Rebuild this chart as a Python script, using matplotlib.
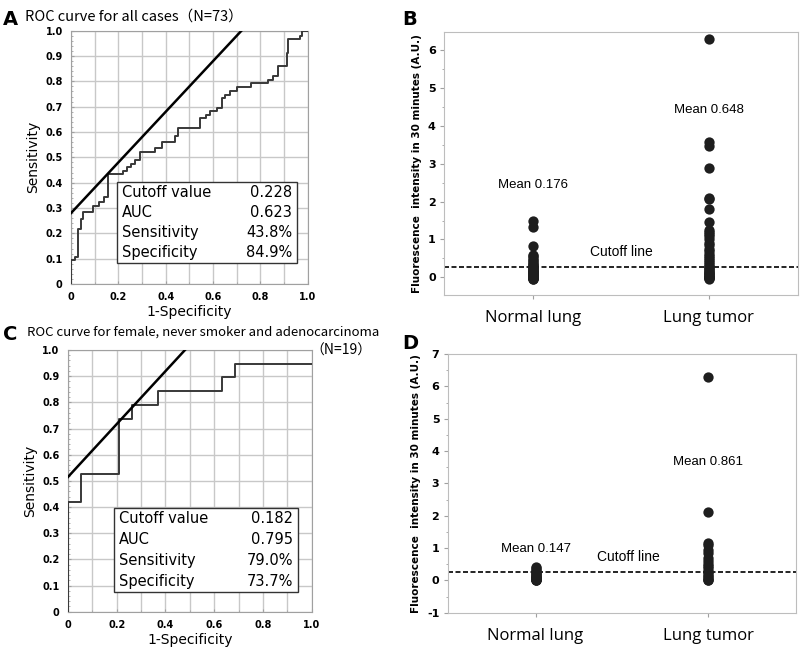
import matplotlib
matplotlib.use("Agg")
import matplotlib.pyplot as plt
from matplotlib.ticker import MultipleLocator, FuncFormatter

# ---- ROC curve, all cases (N=73) ----
roc_a_fpr = [0, 0, 0.017, 0.031, 0.04, 0.052, 0.094, 0.12, 0.14, 0.155, 0.22, 0.235,
             0.252, 0.272, 0.291, 0.354, 0.383, 0.439, 0.45, 0.544, 0.57, 0.586,
             0.615, 0.636, 0.65, 0.671, 0.699, 0.762, 0.832, 0.854, 0.872, 0.91,
             0.918, 0.966, 0.975, 0.987, 1.0]
roc_a_tpr = [0, 0.095, 0.108, 0.217, 0.257, 0.286, 0.306, 0.325, 0.343, 0.435, 0.447,
             0.463, 0.475, 0.49, 0.519, 0.536, 0.56, 0.585, 0.614, 0.655, 0.668,
             0.684, 0.694, 0.734, 0.747, 0.76, 0.777, 0.793, 0.806, 0.82, 0.859,
             0.912, 0.967, 0.978, 0.998, 1.0, 1.0]
tan_a_x = [0, 0.72]
tan_a_y = [0.28, 1.0]
stats_a = [("Cutoff value", "0.228"), ("AUC", "0.623"),
           ("Sensitivity", "43.8%"), ("Specificity", "84.9%")]

# ---- ROC curve, female / never smoker / adenocarcinoma (N=19) ----
roc_c_fpr = [0, 0, 0.053, 0.211, 0.263, 0.368, 0.632, 0.684, 1.0]
roc_c_tpr = [0, 0.421, 0.526, 0.737, 0.789, 0.842, 0.895, 0.947, 0.947]
tan_c_x = [0, 0.48]
tan_c_y = [0.515, 1.0]
stats_c = [("Cutoff value", "0.182"), ("AUC", "0.795"),
           ("Sensitivity", "79.0%"), ("Specificity", "73.7%")]

# ---- scatter, all cases ----
groups = ["Normal lung", "Lung tumor"]
b_normal = [1.50, 1.33, 0.82, 0.60, 0.55, 0.50, 0.46, 0.42, 0.38, 0.35, 0.32, 0.30,
            0.28, 0.26, 0.24, 0.22, 0.20, 0.18, 0.16, 0.15, 0.14, 0.12, 0.11, 0.10,
            0.09, 0.08, 0.07, 0.06, 0.05, 0.05, 0.04, 0.03, 0.03, 0.02, 0.02, 0.01,
            0.01, 0.0, 0.0, 0.0, -0.01, -0.02, -0.03, -0.04, -0.05]
b_tumor = [6.30, 3.57, 3.47, 2.88, 2.10, 2.07, 1.80, 1.47, 1.25, 1.20, 1.15, 1.10,
           1.02, 0.90, 0.85, 0.75, 0.70, 0.62, 0.55, 0.50, 0.45, 0.40, 0.35, 0.30,
           0.28, 0.25, 0.20, 0.18, 0.15, 0.12, 0.10, 0.08, 0.05, 0.03, 0.02, 0.0,
           0.0, -0.02, -0.03, -0.05]
b_means = ["Mean 0.176", "Mean 0.648"]
b_cutoff = 0.26

# ---- scatter, female / never smoker / adenocarcinoma ----
d_normal = [0.42, 0.38, 0.33, 0.28, 0.25, 0.22, 0.19, 0.16, 0.14, 0.12, 0.10, 0.08,
            0.07, 0.05, 0.04, 0.03, 0.02, 0.01, 0.0]
d_tumor = [6.29, 2.11, 1.15, 1.10, 0.95, 0.85, 0.70, 0.60, 0.50, 0.45, 0.38, 0.30,
           0.25, 0.20, 0.15, 0.10, 0.05, 0.02, 0.0]
d_means = ["Mean 0.147", "Mean 0.861"]
d_cutoff = 0.26

GRID = "#c8c8c8"
FRAME = "#a0a0a0"
INK = "#1e1e1e"

fig = plt.figure(figsize=(8, 6.53), dpi=100)


def roc_fmt(v, pos):
    return "0" if abs(v) < 1e-9 else "%.1f" % v


def roc_panel(rect, fpr, tpr, tx, ty, stats, box):
    ax = fig.add_axes(rect)
    ax.set_xlim(0, 1)
    ax.set_ylim(0, 1)
    ax.xaxis.set_major_locator(MultipleLocator(0.2))
    ax.xaxis.set_minor_locator(MultipleLocator(0.1))
    ax.yaxis.set_major_locator(MultipleLocator(0.1))
    ax.yaxis.set_minor_locator(MultipleLocator(0.02))
    ax.xaxis.set_major_formatter(FuncFormatter(roc_fmt))
    ax.yaxis.set_major_formatter(FuncFormatter(roc_fmt))
    ax.grid(True, which="major", color=GRID, lw=1.0)
    ax.grid(True, which="minor", axis="x", color=GRID, lw=1.0)
    for s in ax.spines.values():
        s.set_color(FRAME)
    ax.tick_params(which="both", direction="in", color=FRAME, length=2,
                   labelsize=7, pad=6)
    ax.tick_params(which="minor", length=1.5)
    for lab in ax.get_xticklabels() + ax.get_yticklabels():
        lab.set_fontweight("bold")
    ax.plot(fpr, tpr, drawstyle="steps-post", color="#383838", lw=1.4, zorder=3)
    ax.plot(tx, ty, color="black", lw=1.8, zorder=4)
    ax.set_xlabel("1-Specificity", fontsize=10, labelpad=2)
    ax.set_ylabel("Sensitivity", fontsize=10, labelpad=4)
    x0, y0, x1, y1 = box
    ax.add_patch(plt.Rectangle((x0, y0), x1 - x0, y1 - y0, facecolor="white",
                               edgecolor="#333333", lw=1.0, zorder=5))
    rows = len(stats)
    for i, (k, v) in enumerate(stats):
        yy = y1 - (y1 - y0) * (i + 0.5) / rows
        ax.text(x0 + 0.02, yy, k, fontsize=10.5, va="center", ha="left", zorder=6)
        ax.text(x1 - 0.02, yy, v, fontsize=10.5, va="center", ha="right", zorder=6)
    return ax


def dot_panel(rect, normal, tumor, ylim, yticks, means, mean_y, cutoff, cut_xy):
    ax = fig.add_axes(rect)
    ax.scatter([1] * len(normal), normal, s=55, color=INK, zorder=3, lw=0)
    ax.scatter([2] * len(tumor), tumor, s=55, color=INK, zorder=3, lw=0)
    ax.axhline(cutoff, color="black", ls=(0, (3, 1.5)), lw=1.2, zorder=2)
    ax.set_xlim(0.49, 2.51)
    ax.set_ylim(*ylim)
    ax.set_yticks(yticks)
    ax.set_yticklabels([str(t) for t in yticks], fontweight="bold")
    ax.yaxis.set_minor_locator(MultipleLocator(0.5))
    ax.set_xticks([1, 2])
    ax.set_xticklabels(groups, fontsize=12, family="Open Sans")
    for s in ax.spines.values():
        s.set_color("#bdbdbd")
    ax.tick_params(axis="y", which="both", direction="out", color=FRAME, length=3,
                   labelsize=8, pad=3)
    ax.tick_params(axis="y", which="minor", length=1.5)
    ax.tick_params(axis="x", direction="out", color=FRAME, length=3, pad=8)
    ax.set_ylabel("Fluorescence  intensity in 30 minutes (A.U.)", fontsize=7.5,
                  fontweight="bold", labelpad=4)
    ax.text(1, mean_y[0], means[0], ha="center", va="center", fontsize=9.5,
            family="Liberation Sans")
    ax.text(2, mean_y[1], means[1], ha="center", va="center", fontsize=9.5,
            family="Liberation Sans")
    ax.text(cut_xy[0], cut_xy[1], "Cutoff line", ha="center", va="center",
            fontsize=10, family="Liberation Sans")
    return ax


roc_panel([0.0888, 0.5651, 0.296, 0.388], roc_a_fpr, roc_a_tpr, tan_a_x, tan_a_y,
          stats_a, (0.194, 0.083, 0.954, 0.403))
roc_panel([0.085, 0.0632, 0.3046, 0.4008], roc_c_fpr, roc_c_tpr, tan_c_x, tan_c_y,
          stats_c, (0.19, 0.075, 0.944, 0.396))

dot_panel([0.555, 0.5482, 0.4425, 0.4023], b_normal, b_tumor, (-0.47, 6.48),
          [0, 1, 2, 3, 4, 5, 6], b_means, (2.44, 4.43), b_cutoff, (1.5, 0.68))
dot_panel([0.5596, 0.0617, 0.4354, 0.396], d_normal, d_tumor, (-1, 7),
          [-1, 0, 1, 2, 3, 4, 5, 6, 7], d_means, (0.98, 3.66), d_cutoff, (1.54, 0.72))

# panel letters and titles
title_font = ["Noto Sans CJK JP", "DejaVu Sans"]
fig.text(0.004, 0.985, "A", fontsize=14, fontweight="bold", va="top")
fig.text(0.503, 0.985, "B", fontsize=14, fontweight="bold", va="top")
fig.text(0.004, 0.502, "C", fontsize=14, fontweight="bold", va="top")
fig.text(0.503, 0.488, "D", fontsize=14, fontweight="bold", va="top")
fig.text(0.031, 0.986, "ROC curve for all cases\uff08N=73\uff09", fontsize=10.5,
         va="top", family=title_font)
fig.text(0.034, 0.501, "ROC curve for female, never smoker and adenocarcinoma",
         fontsize=9.5, va="top", family=title_font)
fig.text(0.465, 0.474, "\uff08N=19\uff09", fontsize=10, va="top", ha="right",
         family=title_font)

fig.savefig("out.png", dpi=100)
